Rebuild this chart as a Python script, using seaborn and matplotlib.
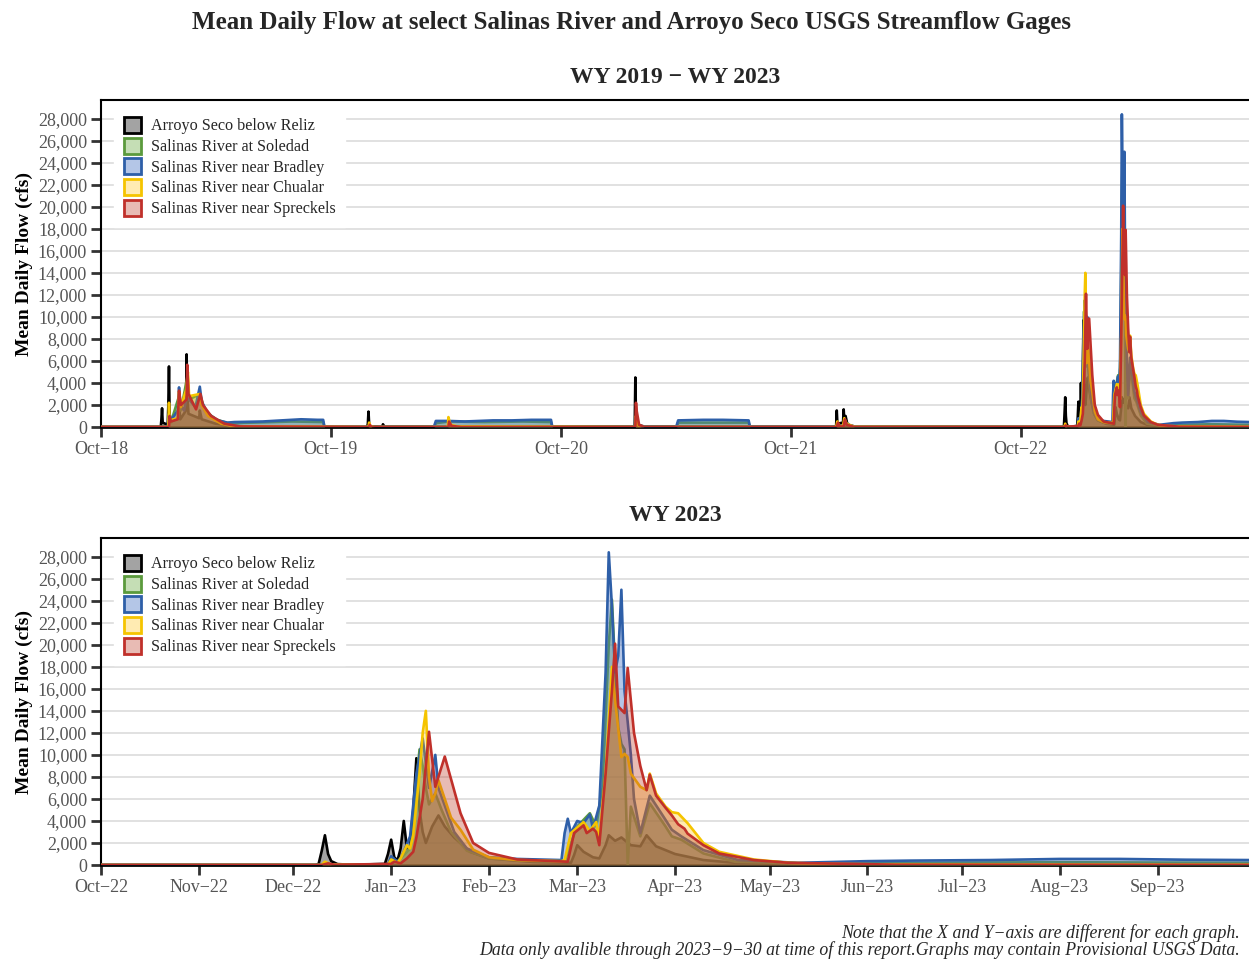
import matplotlib
matplotlib.use("Agg")
import numpy as np
import pandas as pd
import matplotlib.pyplot as plt
import seaborn as sns
from matplotlib.patches import Patch
from matplotlib.ticker import FuncFormatter

sns.set_theme(style="white")
plt.rcParams['font.family'] = ['Liberation Serif', 'DejaVu Serif']

# ---------------- data ----------------
SERIES = ["Arroyo Seco below Reliz", "Salinas River at Soledad", "Salinas River near Bradley",
          "Salinas River near Chualar", "Salinas River near Spreckels"]

# --- WY2019 - WY2022 (key readings) ---
ARROYO_EARLY_DATES = ["2018-10-01", "2019-01-04", "2019-01-05", "2019-01-06", "2019-01-07", "2019-01-15",
                      "2019-01-16", "2019-01-17", "2019-01-18", "2019-01-20", "2019-02-01", "2019-02-02",
                      "2019-02-04", "2019-02-13", "2019-02-14", "2019-02-15", "2019-02-17", "2019-03-06",
                      "2019-03-07", "2019-03-10", "2019-04-01", "2019-05-01", "2019-06-01", "2019-11-28",
                      "2019-11-29", "2019-11-30", "2019-12-01", "2019-12-03", "2019-12-22", "2019-12-23",
                      "2019-12-25", "2021-01-26", "2021-01-27", "2021-01-28", "2021-01-30", "2021-02-10",
                      "2021-12-12", "2021-12-13", "2021-12-14", "2021-12-23", "2021-12-24", "2021-12-25",
                      "2021-12-27", "2021-12-30", "2022-01-10", "2022-09-30"]
ARROYO_EARLY_FLOW = [0, 10, 700, 1700, 400, 200, 2000, 5500, 1200, 500, 800, 2000, 700, 1500, 6600, 3000, 1200,
                     800, 1500, 700, 300, 100, 20, 10, 300, 1400, 300, 50, 30, 250, 30, 30, 4500, 1000, 200, 50,
                     20, 1500, 300, 400, 1600, 600, 1000, 200, 50, 0]

SOLEDAD_EARLY_DATES = ["2018-10-01", "2019-01-16", "2019-01-17", "2019-01-20", "2019-02-02", "2019-02-05",
                       "2019-02-15", "2019-02-18", "2019-03-07", "2019-03-15", "2019-04-01", "2019-04-20",
                       "2019-06-01", "2019-08-01", "2019-09-19", "2019-09-21", "2019-11-29", "2019-12-01",
                       "2019-12-05", "2020-03-14", "2020-03-16", "2020-04-06", "2020-06-01", "2020-08-01",
                       "2020-09-15", "2020-09-17", "2021-01-27", "2021-01-28", "2021-01-31", "2021-02-10",
                       "2021-04-03", "2021-04-05", "2021-07-26", "2021-07-28", "2021-12-13", "2021-12-15",
                       "2021-12-18", "2021-12-23", "2021-12-26", "2022-01-05", "2022-09-30"]
SOLEDAD_EARLY_FLOW = [0, 0, 800, 400, 2800, 1500, 4500, 2500, 3000, 1500, 700, 350, 400, 500, 450, 0, 0, 100, 0,
                      0, 350, 500, 450, 500, 450, 0, 0, 1000, 100, 0, 0, 400, 400, 0, 0, 300, 50, 50, 500, 50, 0]

BRADLEY_EARLY_DATES = ["2018-10-01", "2019-01-15", "2019-01-17", "2019-01-20", "2019-01-31", "2019-02-02",
                       "2019-02-04", "2019-02-10", "2019-02-15", "2019-02-18", "2019-02-28", "2019-03-07",
                       "2019-03-10", "2019-03-20", "2019-04-05", "2019-04-20", "2019-05-01", "2019-06-15",
                       "2019-07-15", "2019-08-15", "2019-09-10", "2019-09-19", "2019-09-21", "2020-03-13",
                       "2020-03-16", "2020-04-05", "2020-05-01", "2020-06-15", "2020-07-15", "2020-08-15",
                       "2020-09-15", "2020-09-17", "2021-01-27", "2021-01-28", "2021-01-31", "2021-04-02",
                       "2021-04-05", "2021-05-15", "2021-06-15", "2021-07-26", "2021-07-28", "2021-12-12",
                       "2021-12-15", "2021-12-18", "2021-12-23", "2021-12-26", "2022-01-10", "2022-09-30"]
BRADLEY_EARLY_FLOW = [20, 20, 1200, 600, 1500, 3600, 2000, 1500, 3000, 2500, 1800, 3660, 2300, 1200, 600, 400,
                      450, 500, 600, 700, 650, 650, 20, 20, 550, 550, 500, 600, 600, 650, 650, 20, 20, 800, 50,
                      30, 600, 650, 650, 600, 50, 50, 200, 60, 60, 300, 50, 20]

CHUALAR_EARLY_DATES = ["2018-10-01", "2019-01-16", "2019-01-17", "2019-01-18", "2019-01-31", "2019-02-02",
                       "2019-02-05", "2019-02-14", "2019-02-16", "2019-02-18", "2019-03-07", "2019-03-10",
                       "2019-03-20", "2019-04-10", "2019-05-01", "2019-11-30", "2019-12-01", "2019-12-03",
                       "2019-12-10", "2020-04-04", "2020-04-05", "2020-04-08", "2020-04-20", "2021-01-27",
                       "2021-01-28", "2021-01-30", "2021-02-05", "2021-12-12", "2021-12-14", "2021-12-16",
                       "2021-12-23", "2021-12-25", "2021-12-28", "2022-01-10", "2022-09-30"]
CHUALAR_EARLY_FLOW = [0, 0, 2200, 600, 800, 3200, 1800, 3500, 5000, 2800, 3000, 2000, 1000, 300, 50, 0, 400, 50,
                      0, 0, 900, 200, 50, 0, 1000, 200, 0, 0, 500, 100, 50, 800, 300, 20, 0]

SPRECKELS_EARLY_DATES = ["2018-10-01", "2019-01-17", "2019-01-18", "2019-01-20", "2019-01-31", "2019-02-02",
                         "2019-02-05", "2019-02-14", "2019-02-15", "2019-02-17", "2019-03-01", "2019-03-08",
                         "2019-03-12", "2019-03-25", "2019-04-15", "2019-05-10", "2019-12-01", "2019-12-02",
                         "2019-12-05", "2020-04-05", "2020-04-06", "2020-04-10", "2020-04-25", "2021-01-27",
                         "2021-01-28", "2021-01-29", "2021-02-02", "2021-02-10", "2021-12-13", "2021-12-15",
                         "2021-12-17", "2021-12-24", "2021-12-26", "2021-12-29", "2022-01-10", "2022-09-30"]
SPRECKELS_EARLY_FLOW = [0, 0, 1000, 500, 700, 3300, 2000, 2500, 5650, 3000, 1600, 3000, 2000, 1000, 300, 50, 0,
                        200, 0, 0, 500, 100, 0, 0, 2200, 1500, 200, 0, 0, 400, 50, 50, 700, 200, 0, 0]

# --- WY2023 ---
ARROYO_DATES = ["2022-10-01", "2022-12-08", "2022-12-09", "2022-12-10", "2022-12-11", "2022-12-12", "2022-12-13",
                "2022-12-15", "2022-12-20", "2022-12-30", "2022-12-31", "2023-01-01", "2023-01-02", "2023-01-03",
                "2023-01-04", "2023-01-05", "2023-01-06", "2023-01-07", "2023-01-08", "2023-01-09", "2023-01-10",
                "2023-01-11", "2023-01-12", "2023-01-14", "2023-01-16", "2023-01-18", "2023-01-21", "2023-01-26",
                "2023-02-01", "2023-02-15", "2023-02-27", "2023-02-28", "2023-03-01", "2023-03-03", "2023-03-06",
                "2023-03-08", "2023-03-10", "2023-03-11", "2023-03-13", "2023-03-15", "2023-03-18", "2023-03-21",
                "2023-03-23", "2023-03-26", "2023-03-29", "2023-04-01", "2023-04-10", "2023-04-20", "2023-05-10",
                "2023-06-10", "2023-09-30"]
ARROYO_FLOW = [0, 5, 100, 1300, 2700, 1000, 350, 80, 20, 100, 1000, 2300, 700, 400, 1500, 4000, 1500, 1800,
               5000, 9700, 5000, 3000, 2000, 3500, 4500, 3500, 2500, 1200, 600, 280, 200, 900, 1800, 1200, 700,
               600, 1800, 2700, 2200, 2500, 1800, 1700, 2700, 1700, 1350, 1000, 450, 200, 60, 20, 10]

SOLEDAD_DATES = ["2022-10-01", "2022-12-10", "2022-12-11", "2022-12-13", "2022-12-31", "2023-01-01", "2023-01-03",
                 "2023-01-05", "2023-01-07", "2023-01-08", "2023-01-09", "2023-01-10", "2023-01-11", "2023-01-12",
                 "2023-01-13", "2023-01-15", "2023-01-17", "2023-01-20", "2023-01-25", "2023-02-01", "2023-02-15",
                 "2023-02-25", "2023-02-27", "2023-03-01", "2023-03-05", "2023-03-07", "2023-03-09", "2023-03-11",
                 "2023-03-12", "2023-03-13", "2023-03-14", "2023-03-15", "2023-03-16", "2023-03-17", "2023-03-18",
                 "2023-03-21", "2023-03-24", "2023-03-29", "2023-03-31", "2023-04-03", "2023-04-10", "2023-04-20",
                 "2023-05-10", "2023-06-01", "2023-07-01", "2023-08-01", "2023-09-30"]
SOLEDAD_FLOW = [5, 5, 150, 20, 20, 500, 300, 900, 1500, 3000, 7500, 10500, 9000, 7000, 5500, 6500, 5000, 3000,
                1300, 600, 350, 300, 2000, 3500, 4700, 3500, 7000, 20000, 24100, 18000, 12500, 11000, 10500, 0,
                5300, 2600, 5600, 3500, 2600, 2300, 1050, 300, 150, 150, 220, 250, 200]

BRADLEY_DATES = ["2022-10-01", "2022-12-10", "2022-12-31", "2023-01-01", "2023-01-03", "2023-01-04", "2023-01-05",
                 "2023-01-07", "2023-01-09", "2023-01-11", "2023-01-13", "2023-01-15", "2023-01-16", "2023-01-18",
                 "2023-01-21", "2023-01-25", "2023-02-01", "2023-02-10", "2023-02-24", "2023-02-25", "2023-02-26",
                 "2023-02-27", "2023-03-01", "2023-03-03", "2023-03-05", "2023-03-06", "2023-03-08", "2023-03-10",
                 "2023-03-11", "2023-03-12", "2023-03-13", "2023-03-14", "2023-03-15", "2023-03-16", "2023-03-17",
                 "2023-03-18", "2023-03-19", "2023-03-21", "2023-03-24", "2023-03-29", "2023-03-31", "2023-04-03",
                 "2023-04-10", "2023-04-21", "2023-05-10", "2023-06-01", "2023-06-15", "2023-07-10", "2023-08-01",
                 "2023-08-20", "2023-09-10", "2023-09-30"]
BRADLEY_FLOW = [20, 20, 30, 800, 300, 600, 1200, 2600, 8300, 11500, 7000, 10000, 7000, 5400, 3000, 1500, 700,
                550, 450, 2900, 4200, 2900, 4000, 3800, 4600, 3300, 5400, 17500, 28400, 23500, 17500, 19000,
                25000, 15800, 13000, 10000, 6000, 2900, 6300, 4100, 3200, 2600, 1350, 450, 200, 350, 400, 450,
                550, 550, 480, 450]

CHUALAR_DATES = ["2022-10-01", "2022-12-10", "2022-12-11", "2022-12-13", "2022-12-31", "2023-01-01", "2023-01-03",
                 "2023-01-04", "2023-01-06", "2023-01-07", "2023-01-08", "2023-01-10", "2023-01-11", "2023-01-12",
                 "2023-01-13", "2023-01-14", "2023-01-15", "2023-01-16", "2023-01-18", "2023-01-20", "2023-01-23",
                 "2023-01-27", "2023-02-01", "2023-02-10", "2023-02-24", "2023-02-25", "2023-02-27", "2023-03-03",
                 "2023-03-05", "2023-03-07", "2023-03-08", "2023-03-10", "2023-03-12", "2023-03-13", "2023-03-15",
                 "2023-03-16", "2023-03-17", "2023-03-18", "2023-03-21", "2023-03-23", "2023-03-24", "2023-03-26",
                 "2023-03-29", "2023-03-31", "2023-04-02", "2023-04-04", "2023-04-05", "2023-04-10", "2023-04-15",
                 "2023-04-26", "2023-05-07", "2023-05-20", "2023-06-10", "2023-09-30"]
CHUALAR_FLOW = [0, 0, 300, 30, 20, 500, 200, 600, 1800, 1500, 2700, 8300, 12000, 14000, 8000, 5800, 6500, 7700,
                6000, 4300, 3200, 1400, 700, 450, 350, 450, 2900, 3900, 3100, 3900, 2500, 8300, 18000, 15000, 9800,
                10100, 9800, 8300, 7100, 6800, 8300, 6500, 5300, 4800, 4700, 4100, 3800, 2000, 1200, 500, 200,
                100, 50, 20]

SPRECKELS_DATES = ["2022-10-01", "2022-12-10", "2022-12-12", "2022-12-14", "2023-01-01", "2023-01-02",
                   "2023-01-04", "2023-01-06", "2023-01-08", "2023-01-09", "2023-01-11", "2023-01-13",
                   "2023-01-15", "2023-01-18", "2023-01-23", "2023-01-27", "2023-02-01", "2023-02-10",
                   "2023-02-26", "2023-02-28", "2023-03-03", "2023-03-04", "2023-03-06", "2023-03-07",
                   "2023-03-08", "2023-03-10", "2023-03-12", "2023-03-13", "2023-03-14", "2023-03-16",
                   "2023-03-17", "2023-03-19", "2023-03-21", "2023-03-23", "2023-03-24", "2023-03-26",
                   "2023-03-29", "2023-03-31", "2023-04-02", "2023-04-04", "2023-04-05", "2023-04-10",
                   "2023-04-15", "2023-04-26", "2023-05-07", "2023-05-17", "2023-06-10", "2023-09-30"]
SPRECKELS_FLOW = [0, 0, 150, 20, 100, 300, 150, 600, 1200, 2500, 6000, 12100, 7100, 9850, 4700, 2000, 1100, 500,
                  300, 2900, 3600, 2900, 3300, 3000, 1800, 8300, 15800, 20100, 14400, 13800, 17900, 12000, 9000,
                  6800, 8200, 6300, 5200, 4500, 3700, 3300, 2850, 1800, 1050, 450, 200, 150, 30, 10]

Y_TICKS = list(range(0, 28001, 2000))

LINE_COLORS = ["#000000", "#5b9a3c", "#2e5fa8", "#f5c400", "#c0302a"]
FILL_COLORS = ["#333333", "#70ad47", "#4472c4", "#ffc000", "#be3c28"]
FILL_ALPHAS = [0.45, 0.4, 0.4, 0.3, 0.35]

early = [(ARROYO_EARLY_DATES, ARROYO_EARLY_FLOW), (SOLEDAD_EARLY_DATES, SOLEDAD_EARLY_FLOW),
         (BRADLEY_EARLY_DATES, BRADLEY_EARLY_FLOW), (CHUALAR_EARLY_DATES, CHUALAR_EARLY_FLOW),
         (SPRECKELS_EARLY_DATES, SPRECKELS_EARLY_FLOW)]
wy23 = [(ARROYO_DATES, ARROYO_FLOW), (SOLEDAD_DATES, SOLEDAD_FLOW), (BRADLEY_DATES, BRADLEY_FLOW),
        (CHUALAR_DATES, CHUALAR_FLOW), (SPRECKELS_DATES, SPRECKELS_FLOW)]


def frame(dates, flows):
    return pd.DataFrame({"date": pd.to_datetime(dates), "flow": flows})


def draw(ax, frames, xstart, xend, ticks):
    for i, (name, df) in enumerate(zip(SERIES, frames)):
        ax.fill_between(df["date"], 0, df["flow"], color=FILL_COLORS[i], alpha=FILL_ALPHAS[i],
                        linewidth=0, zorder=2 + 2 * i)
        sns.lineplot(data=df, x="date", y="flow", ax=ax, color=LINE_COLORS[i], linewidth=1.9,
                     estimator=None, legend=False, zorder=3 + 2 * i)
    ax.set_xlim(pd.Timestamp(xstart), pd.Timestamp(xend))
    ax.set_ylim(0, 29700)
    ax.set_yticks(Y_TICKS)
    ax.yaxis.set_major_formatter(FuncFormatter(lambda v, p: f"{v:,.0f}"))
    ax.set_xticks(ticks)
    ax.set_xticklabels([f"{t:%b}\u2212{t:%y}" for t in ticks])
    ax.grid(axis="y", color="#d9d9d9", linewidth=1.1)
    ax.set_axisbelow(True)
    for s in ["left", "top"]:
        ax.spines[s].set_color("black")
        ax.spines[s].set_linewidth(1.5)
    ax.spines["bottom"].set_color("black")
    ax.spines["bottom"].set_linewidth(2)
    ax.spines["right"].set_visible(False)
    ax.tick_params(axis="both", which="major", bottom=True, left=True, direction="out", length=7,
                   width=2, color="#333333", labelcolor="#555555", labelsize=13, pad=3)
    ax.set_xlabel("")
    ax.set_ylabel("Mean Daily Flow (cfs)", fontsize=14, fontweight="bold", color="black")
    ax.yaxis.set_label_coords(-0.0595, 0.5)
    handles = [Patch(facecolor=matplotlib.colors.to_rgba(FILL_COLORS[i], FILL_ALPHAS[i]),
                     edgecolor=LINE_COLORS[i], linewidth=2, label=SERIES[i]) for i in range(5)]
    leg = ax.legend(handles=handles, loc="upper left", bbox_to_anchor=(0.0035, 1.005), fontsize=11.6,
                    frameon=True, fancybox=False, framealpha=1, facecolor="white", edgecolor="white",
                    labelspacing=0.2, handlelength=1.1, handleheight=1.15, handletextpad=0.6,
                    borderpad=0.6, borderaxespad=0.55)
    leg.set_zorder(20)


fig = plt.figure(figsize=(12.49, 9.6), dpi=100)
ax1 = fig.add_axes([101 / 1249, 1 - 427 / 960, 1 - 101 / 1249, 327 / 960])
ax2 = fig.add_axes([101 / 1249, 1 - 865 / 960, 1 - 101 / 1249, 327 / 960])

top_frames = [frame(e[0] + w[0], e[1] + w[1]) for e, w in zip(early, wy23)]
bot_frames = [frame(w[0], w[1]) for w in wy23]

draw(ax1, top_frames, "2018-10-01", "2023-09-29", pd.date_range("2018-10-01", "2022-10-01", freq="12MS"))
draw(ax2, bot_frames, "2022-10-01", "2023-09-30", pd.date_range("2022-10-01", "2023-09-01", freq="MS"))

ax1.text(0.5, 1.07, "WY 2019 \u2212 WY 2023", transform=ax1.transAxes, ha="center", va="center",
         fontsize=17, fontweight="bold")
ax2.text(0.5, 1.07, "WY 2023", transform=ax2.transAxes, ha="center", va="center",
         fontsize=17, fontweight="bold")
fig.text(632 / 1249, 1 - 23 / 960,
         "Mean Daily Flow at select Salinas River and Arroyo Seco USGS Streamflow Gages",
         ha="center", va="center", fontsize=18, fontweight="bold")
fig.text(1240 / 1249, 1 - 933 / 960, "Note that the X and Y\u2212axis are different for each graph.",
         ha="right", va="center", fontsize=12.8, style="italic")
fig.text(1240 / 1249, 1 - 950 / 960,
         "Data only avalible through 2023\u22129\u221230 at time of this report.Graphs may contain Provisional USGS Data.",
         ha="right", va="center", fontsize=12.8, style="italic")

fig.savefig("out.png", dpi=100)
